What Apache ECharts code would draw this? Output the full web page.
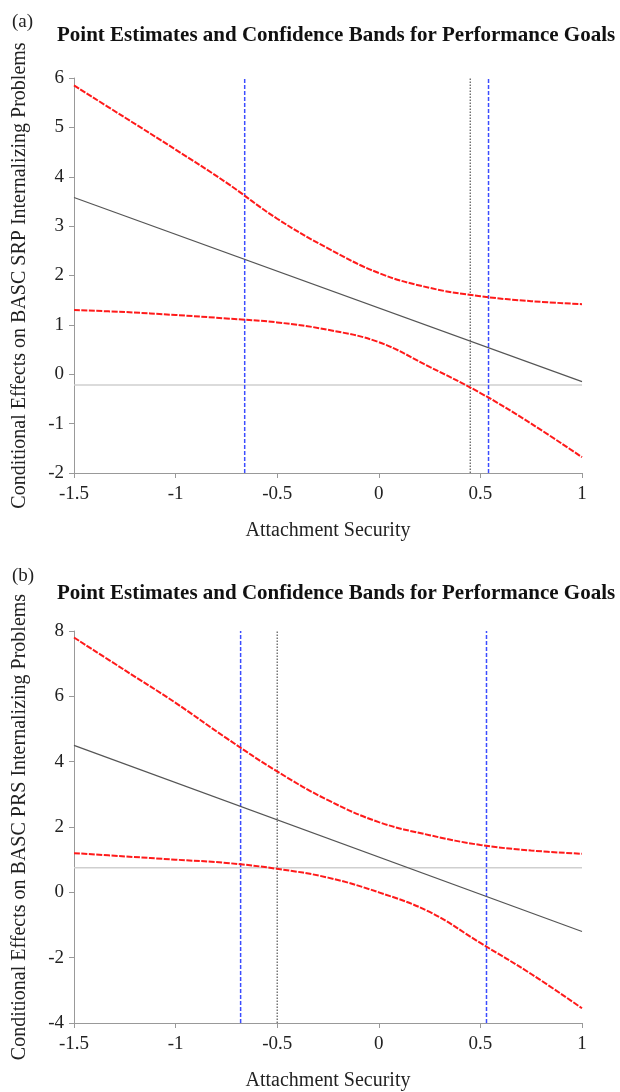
<!DOCTYPE html>
<html>
<head>
<meta charset="utf-8">
<script src="https://cdn.jsdelivr.net/npm/echarts@6/dist/echarts.min.js"></script>
<style>
  html, body { margin: 0; padding: 0; background: #fff; }
  #chart { width: 620px; height: 1092px; }
</style>
</head>
<body>
<div id="chart"></div>
<script>
// x grid used by the curves
const xs = [-1.5, -1.25, -1, -0.75, -0.5, -0.25, 0, 0.25, 0.5, 0.75, 1];

// panel (a) - BASC SRP
const aUpper = [5.85, 5.2, 4.55, 3.88, 3.15, 2.55, 2.05, 1.75, 1.58, 1.48, 1.42];
const aLower = [1.3, 1.26, 1.2, 1.13, 1.05, 0.9, 0.65, 0.15, -0.38, -1.0, -1.68];
const aEstX = [-1.5, 1];
const aEstY = [3.58, -0.15];
const aZero = -0.22;
const aBlue = [-0.66, 0.54];
const aDot = [0.45];
const aRange = [-2, 6];

// panel (b) - BASC PRS
const bUpper = [7.8, 6.8, 5.8, 4.72, 3.7, 2.82, 2.15, 1.75, 1.45, 1.28, 1.18];
const bLower = [1.2, 1.1, 1.0, 0.9, 0.72, 0.45, 0.0, -0.6, -1.55, -2.5, -3.55];
const bEstX = [-1.5, 1];
const bEstY = [4.5, -1.2];
const bZero = 0.75;
const bBlue = [-0.68, 0.53];
const bDot = [-0.5];
const bRange = [-4, 8];

const titleText = 'Point Estimates and Confidence Bands for Performance Goals';
const serif = 'Liberation Serif';

const chart = echarts.init(document.getElementById('chart'));

function pairs(x, y) {
  return x.map((v, i) => [v, y[i]]);
}

function panelSeries(idx, upper, lower, estX, estY, zero, blue, dot, range) {
  const out = [];
  const redStyle = { color: '#ff1a1a', width: 2, type: [6, 1.5] };
  out.push({ type: 'line', xAxisIndex: idx, yAxisIndex: idx, data: pairs(xs, upper),
    smooth: 0.4, symbol: 'none', lineStyle: redStyle, z: 5 });
  out.push({ type: 'line', xAxisIndex: idx, yAxisIndex: idx, data: pairs(xs, lower),
    smooth: 0.4, symbol: 'none', lineStyle: redStyle, z: 5 });
  out.push({ type: 'line', xAxisIndex: idx, yAxisIndex: idx, data: pairs(estX, estY),
    symbol: 'none', lineStyle: { color: '#555', width: 1.2 }, z: 4 });
  out.push({ type: 'line', xAxisIndex: idx, yAxisIndex: idx,
    data: [[xs[0], zero], [xs[xs.length - 1], zero]],
    symbol: 'none', lineStyle: { color: '#cfcfcf', width: 1.5 }, z: 2 });
  blue.forEach(b => {
    out.push({ type: 'line', xAxisIndex: idx, yAxisIndex: idx,
      data: [[b, range[0]], [b, range[1]]], symbol: 'none',
      lineStyle: { color: '#3b4cff', width: 1.5, type: [4, 2] }, z: 3 });
  });
  dot.forEach(d => {
    out.push({ type: 'line', xAxisIndex: idx, yAxisIndex: idx,
      data: [[d, range[0]], [d, range[1]]], symbol: 'none',
      lineStyle: { color: '#555', width: 1.2, type: [1.5, 1.5] }, z: 3 });
  });
  return out;
}

function xAxisCfg(idx) {
  return {
    type: 'value', gridIndex: idx, min: -1.5, max: 1, interval: 0.5,
    name: 'Attachment Security', nameLocation: 'middle', nameGap: 48,
    nameTextStyle: { fontFamily: serif, fontSize: 20, color: '#222' },
    axisLine: { onZero: false, lineStyle: { color: '#999' } },
    axisTick: { show: true, length: 5, lineStyle: { color: '#999' } },
    axisLabel: { fontFamily: serif, fontSize: 19, color: '#222', margin: 12 },
    splitLine: { show: false }
  };
}

function yAxisCfg(idx, range, step, name) {
  return {
    type: 'value', gridIndex: idx, min: range[0], max: range[1], interval: step,
    name: name, nameLocation: 'middle', nameGap: 44, nameRotate: 90,
    nameTextStyle: { fontFamily: serif, fontSize: 20, color: '#222' },
    axisLine: { show: true, onZero: false, lineStyle: { color: '#999' } },
    axisTick: { show: true, length: 5, lineStyle: { color: '#999' } },
    axisLabel: { fontFamily: serif, fontSize: 19, color: '#222', margin: 10 },
    splitLine: { show: false }
  };
}

const option = {
  backgroundColor: '#fff',
  animation: false,
  title: [
    { text: '(a)', left: 7, top: 8, textStyle: { fontFamily: serif, fontSize: 19, fontWeight: 'normal', color: '#222' } },
    { text: titleText, left: 52, top: 20, textStyle: { fontFamily: serif, fontSize: 21, fontWeight: 'bold', color: '#111' } },
    { text: '(b)', left: 7, top: 562, textStyle: { fontFamily: serif, fontSize: 19, fontWeight: 'normal', color: '#222' } },
    { text: titleText, left: 52, top: 578, textStyle: { fontFamily: serif, fontSize: 21, fontWeight: 'bold', color: '#111' } }
  ],
  grid: [
    { left: 74, right: 38, top: 78, height: 395 },
    { left: 74, right: 38, top: 631, height: 392 }
  ],
  xAxis: [xAxisCfg(0), xAxisCfg(1)],
  yAxis: [
    yAxisCfg(0, aRange, 1, 'Conditional Effects on BASC SRP Internalizing Problems'),
    yAxisCfg(1, bRange, 2, 'Conditional Effects on BASC PRS Internalizing Problems')
  ],
  series: [
    ...panelSeries(0, aUpper, aLower, aEstX, aEstY, aZero, aBlue, aDot, aRange),
    ...panelSeries(1, bUpper, bLower, bEstX, bEstY, bZero, bBlue, bDot, bRange)
  ]
};

chart.setOption(option);
</script>
</body>
</html>
